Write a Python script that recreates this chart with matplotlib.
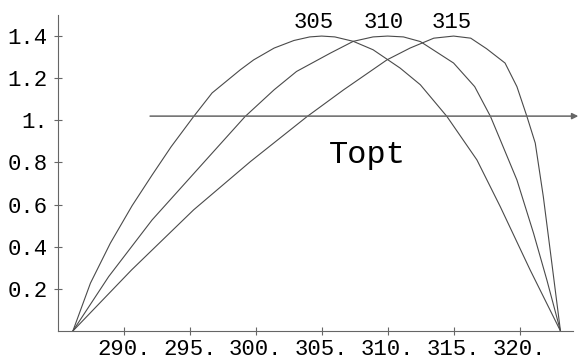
import numpy as np
import matplotlib.pyplot as plt

# curves, one per optimum temperature
t_305 = [286.15, 287.48, 288.99, 290.64, 292.15, 293.6, 295.3, 296.7, 298.84, 299.85,
         301.4, 302.9, 304.1, 305.0, 306.0, 307.4, 308.9, 310.95, 312.48, 314.5,
         316.77, 318.54, 320.8, 323.1]
r_305 = [0.0, 0.227, 0.417, 0.595, 0.74, 0.875, 1.018, 1.13, 1.24, 1.287,
         1.343, 1.379, 1.396, 1.40, 1.396, 1.375, 1.335, 1.248, 1.169, 1.018,
         0.812, 0.59, 0.29, 0.0]

t_310 = [286.15, 288.86, 292.15, 296.57, 299.2, 301.4, 303.1, 305.66, 307.4, 308.9,
         310.0, 311.2, 312.48, 315.0, 316.6, 317.8, 318.54, 319.8, 321.06, 322.07,
         323.1]
r_310 = [0.0, 0.258, 0.527, 0.835, 1.018, 1.145, 1.232, 1.319, 1.375, 1.396,
         1.40, 1.396, 1.374, 1.272, 1.16, 1.018, 0.907, 0.717, 0.464, 0.242,
         0.0]

t_315 = [286.15, 290.6, 295.3, 299.6, 303.9, 306.67, 309.95, 311.7, 313.5, 315.0,
         316.3, 317.5, 318.9, 319.8, 320.56, 321.19, 321.8, 322.45, 323.1]
r_315 = [0.0, 0.29, 0.575, 0.804, 1.018, 1.145, 1.287, 1.343, 1.39, 1.40,
         1.39, 1.34, 1.272, 1.16, 1.018, 0.892, 0.638, 0.32, 0.0]

curve_labels = ['305', '310', '315']
label_x = [304.4, 309.7, 314.85]
label_y = 1.438

xticks = [290, 295, 300, 305, 310, 315, 320]
yticks = [0.2, 0.4, 0.6, 0.8, 1.0, 1.2, 1.4]
ytick_labels = ['0.2', '0.4', '0.6', '0.8', '1.', '1.2', '1.4']

mono = 'Liberation Mono'
grey = '#4a4a4a'

fig = plt.figure(figsize=(5.78, 3.61), dpi=100)
ax = fig.add_axes([57.7/578, 30/361, (573-57.7)/578, (331-15)/361])

for t, r in [(t_305, r_305), (t_310, r_310), (t_315, r_315)]:
    ax.plot(t, r, color=grey, lw=0.8)

for lab, x in zip(curve_labels, label_x):
    ax.text(x, label_y, lab, ha='center', va='baseline', fontsize=16,
            family=mono, color='black')

# arrow at y = 1
ax.annotate('', xy=(324.45, 1.02), xytext=(292.0, 1.02),
            arrowprops=dict(arrowstyle='-|>', color='#666666', lw=1.1,
                            mutation_scale=9, shrinkA=0, shrinkB=0),
            annotation_clip=False)
ax.text(308.5, 0.797, 'Topt', ha='center', va='baseline', fontsize=23,
        family=mono, color='black')

ax.set_xlim(285.0, 324.05)
ax.set_ylim(0, 1.5)
ax.set_xticks(xticks)
ax.set_xticklabels([f'{v}.' for v in xticks], family=mono, fontsize=16)
ax.set_yticks(yticks)
ax.set_yticklabels(ytick_labels, family=mono, fontsize=16)
ax.tick_params(direction='inout', length=6, width=0.8, color='#666666', pad=4)
ax.tick_params(axis='x', pad=3)
for s in ['top', 'right']:
    ax.spines[s].set_visible(False)
for s in ['left', 'bottom']:
    ax.spines[s].set_color('#666666')
    ax.spines[s].set_linewidth(0.8)

fig.savefig('out.png', dpi=100)
